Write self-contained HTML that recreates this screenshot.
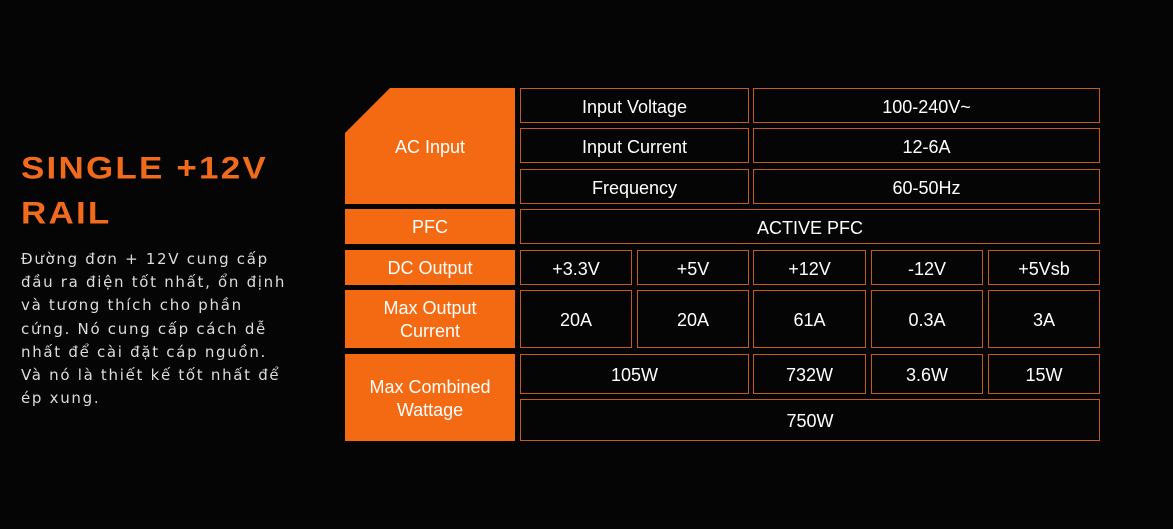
<!DOCTYPE html>
<html><head><meta charset="utf-8"><style>
body{margin:0;width:1173px;height:529px;background:#050505;overflow:hidden;position:relative;font-family:"Liberation Sans",sans-serif;}
.t{position:absolute;left:21px;top:146px;color:#f26a1b;font-size:35px;font-weight:bold;line-height:50px;letter-spacing:2.2px;transform:scaleY(0.9);transform-origin:top left}
.p{position:absolute;left:21px;top:248px;color:#ddd;font-family:"DejaVu Sans",sans-serif;font-size:15px;line-height:23.2px;letter-spacing:1.7px;width:320px;white-space:nowrap}
.o{position:absolute;background:#f46a12;color:#fff;font-size:18px;display:flex;align-items:center;justify-content:center;text-align:center;line-height:23px;padding-top:2px;box-sizing:border-box}
.c{position:absolute;box-sizing:border-box;border:1.5px solid #c35a1e;color:#fff;font-size:18px;display:flex;align-items:center;justify-content:center;padding-top:3px}
</style></head><body>
<div class="t">SINGLE +12V<br>RAIL</div>
<div class="p">Đường đơn + 12V cung cấp<br>đầu ra điện tốt nhất, ổn định<br>và tương thích cho phần<br>cứng. Nó cung cấp cách dễ<br>nhất để cài đặt cáp nguồn.<br>Và nó là thiết kế tốt nhất để<br>ép xung.</div>
<div class="o" style="left:345px;top:88px;width:170px;height:116px;clip-path:polygon(45px 0,100% 0,100% 100%,0 100%,0 45px)">AC Input</div>
<div class="o" style="left:345px;top:209px;width:170px;height:35px">PFC</div>
<div class="o" style="left:345px;top:250px;width:170px;height:35px">DC Output</div>
<div class="o" style="left:345px;top:290px;width:170px;height:58px">Max Output<br>Current</div>
<div class="o" style="left:345px;top:354px;width:170px;height:87px">Max Combined<br>Wattage</div>

<div class="c" style="left:520px;top:88px;width:229px;height:35px">Input Voltage</div>
<div class="c" style="left:753px;top:88px;width:347px;height:35px">100-240V~</div>
<div class="c" style="left:520px;top:128px;width:229px;height:35px">Input Current</div>
<div class="c" style="left:753px;top:128px;width:347px;height:35px">12-6A</div>
<div class="c" style="left:520px;top:169px;width:229px;height:35px">Frequency</div>
<div class="c" style="left:753px;top:169px;width:347px;height:35px">60-50Hz</div>
<div class="c" style="left:520px;top:209px;width:580px;height:35px">ACTIVE PFC</div>

<div class="c" style="left:520px;top:250px;width:112px;height:35px">+3.3V</div>
<div class="c" style="left:637px;top:250px;width:112px;height:35px">+5V</div>
<div class="c" style="left:753px;top:250px;width:113px;height:35px">+12V</div>
<div class="c" style="left:871px;top:250px;width:112px;height:35px">-12V</div>
<div class="c" style="left:988px;top:250px;width:112px;height:35px">+5Vsb</div>

<div class="c" style="left:520px;top:290px;width:112px;height:58px">20A</div>
<div class="c" style="left:637px;top:290px;width:112px;height:58px">20A</div>
<div class="c" style="left:753px;top:290px;width:113px;height:58px">61A</div>
<div class="c" style="left:871px;top:290px;width:112px;height:58px">0.3A</div>
<div class="c" style="left:988px;top:290px;width:112px;height:58px">3A</div>

<div class="c" style="left:520px;top:354px;width:229px;height:40px">105W</div>
<div class="c" style="left:753px;top:354px;width:113px;height:40px">732W</div>
<div class="c" style="left:871px;top:354px;width:112px;height:40px">3.6W</div>
<div class="c" style="left:988px;top:354px;width:112px;height:40px">15W</div>
<div class="c" style="left:520px;top:399px;width:580px;height:42px">750W</div>
</body></html>
